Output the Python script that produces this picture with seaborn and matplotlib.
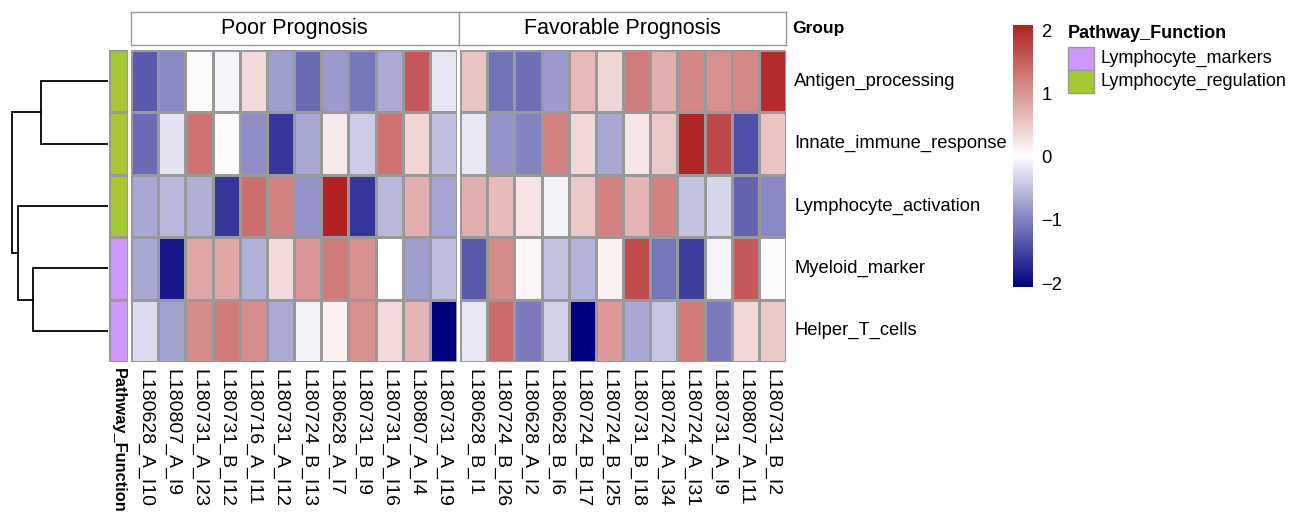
import numpy as np
import pandas as pd
import matplotlib
matplotlib.use("Agg")
import matplotlib.pyplot as plt
import seaborn as sns
from matplotlib.colors import LinearSegmentedColormap, ListedColormap
from matplotlib.patches import Rectangle

# ---------------- data ----------------
rows = ["Antigen_processing", "Innate_immune_response", "Lymphocyte_activation",
        "Myeloid_marker", "Helper_T_cells"]
poor_samples = ["L180628_A_I10", "L180807_A_I9", "L180731_A_I23", "L180731_B_I12",
                "L180716_A_I11", "L180731_A_I12", "L180724_B_I13", "L180628_A_I7",
                "L180731_B_I9", "L180731_A_I16", "L180807_A_I4", "L180731_A_I19"]
fav_samples = ["L180628_B_I1", "L180724_B_I26", "L180628_A_I2", "L180628_B_I6",
               "L180724_B_I17", "L180724_B_I25", "L180731_B_I18", "L180724_A_I34",
               "L180724_A_I31", "L180731_A_I9", "L180807_A_I11", "L180731_B_I2"]
groups = ["Poor Prognosis", "Favorable Prognosis"]

antigen = [-1.33, -0.95, 0.05, -0.08, 0.35, -0.77, -1.19, -0.81, -1.10, -0.67, 1.55, -0.19,
           0.57, -1.13, -1.16, -0.81, 0.67, 0.41, 1.23, 0.76, 1.14, 1.05, 1.11, 1.97]
innate = [-1.19, -0.22, 1.33, 0.05, -0.91, -1.62, -0.70, 0.22, -0.40, 1.33, 0.40, -0.50,
          -0.18, -0.85, -1.00, 1.19, 0.38, -0.70, 0.24, 0.52, 2.05, 1.71, -1.40, 0.57]
lymph_act = [-0.69, -0.56, -0.65, -1.62, 1.36, 1.19, -0.85, 2.08, -1.62, -0.57, 0.76, -0.73,
             0.76, 0.67, 0.26, -0.10, 0.52, 1.19, 0.71, 1.19, -0.48, -0.32, -1.24, -0.95]
myeloid = [-0.69, -1.85, 0.85, 0.85, -0.62, 0.35, 0.99, 1.26, 1.05, 0.00, -0.77, -0.52,
           -1.33, 1.09, 0.10, -0.48, -0.59, 0.15, 1.68, -1.10, -1.55, -0.08, 1.55, 0.05]
helper_t = [-0.27, -0.75, 1.09, 1.24, 1.07, -0.67, -0.10, 0.15, 1.05, 0.35, 0.71, -2.06,
            -0.18, 1.40, -1.07, -0.36, -2.06, 0.95, -0.70, -0.45, 1.24, -1.07, 0.38, 0.52]

pathway = ["Lymphocyte_regulation", "Lymphocyte_regulation", "Lymphocyte_regulation",
           "Lymphocyte_markers", "Lymphocyte_markers"]
pathway_levels = ["Lymphocyte_markers", "Lymphocyte_regulation"]
pathway_colors = ["#CF96FC", "#A6C832"]

# row dendrogram: merges (left id, right id, height); leaves 0..4, new nodes 5..8
merge_left = [0, 3, 2, 5]
merge_right = [1, 4, 6, 7]
merge_height = [67, 75, 90, 96]

# ---------------- figure ----------------
W, H = 1298, 521
fig = plt.figure(figsize=(W / 100, H / 100), dpi=100)
FONT = "Liberation Sans"
plt.rcParams["font.family"] = [FONT, "DejaVu Sans"]


def ax_px(l, t, r, b):
    return fig.add_axes([l / W, 1 - b / H, (r - l) / W, (b - t) / H])


mat = pd.DataFrame([antigen, innate, lymph_act, myeloid, helper_t], index=rows,
                   columns=poor_samples + fav_samples)
vmin, vmax = mat.values.min(), mat.values.max()
cmap = LinearSegmentedColormap.from_list("nwf", ["navy", "white", "firebrick"], N=256)
grey60 = "#999999"
FS_ROW = 13.2
FS_COL = 14

TOP, BOT = 50, 362
ax_p = ax_px(131, TOP, 457, BOT)
ax_f = ax_px(460, TOP, 786, BOT)
cax = ax_px(1013, 25, 1033, 287)

sns.heatmap(mat[poor_samples], ax=ax_p, cmap=cmap, vmin=vmin, vmax=vmax, cbar=False,
            linewidths=1, linecolor=grey60)
sns.heatmap(mat[fav_samples], ax=ax_f, cmap=cmap, vmin=vmin, vmax=vmax, cbar=True,
            cbar_ax=cax, linewidths=1, linecolor=grey60)

for ax, samples in ((ax_p, poor_samples), (ax_f, fav_samples)):
    ax.set_xticks(np.arange(len(samples)) + 0.5)
    ax.set_xticklabels(samples, rotation=270, ha="center", va="top", fontsize=FS_COL)
    ax.tick_params(axis="both", length=0, pad=5)
    ax.set_xlabel("")
    ax.set_ylabel("")
ax_p.set_yticks([])
ax_f.yaxis.tick_right()
ax_f.set_yticks(np.arange(len(rows)) + 0.5)
ax_f.set_yticklabels(rows, rotation=0, ha="left", va="center", fontsize=FS_ROW)
ax_f.tick_params(axis="y", length=0, pad=6)

# colorbar
cbar = ax_f.collections[0].colorbar
cbar.outline.set_visible(False)
cbar.set_ticks([-2, -1, 0, 1, 2])
cbar.set_ticklabels(["\u22122", "\u22121", "0", "1", "2"])
cbar.ax.tick_params(length=0, labelsize=FS_ROW, pad=6)

# annotation column
ax_a = ax_px(109, TOP, 128, BOT)
codes = pd.DataFrame({"Pathway_Function": [pathway_levels.index(p) for p in pathway]}, index=rows)
sns.heatmap(codes, ax=ax_a, cmap=ListedColormap(pathway_colors), vmin=-0.5, vmax=1.5,
            cbar=False, linewidths=1, linecolor=grey60)
ax_a.set_yticks([])
ax_a.set_xticks([0.5])
ax_a.set_xticklabels(["Pathway_Function"], rotation=270, ha="center", va="top",
                     fontsize=11.8, fontweight="bold")
ax_a.tick_params(length=0, pad=4)
ax_a.set_ylabel("")

# header (group boxes)
hdr = [(ax_px(131, 12, 458.5, 45), groups[0]), (ax_px(458.5, 12, 786, 45), groups[1])]
for hax, label in hdr:
    hax.set_xticks([])
    hax.set_yticks([])
    for s in hax.spines.values():
        s.set_color(grey60)
        s.set_linewidth(1)
    hax.text(0.5, 0.5, label, ha="center", va="center", fontsize=15.5,
             transform=hax.transAxes)
fig.text(792 / W, 1 - 29 / H, "Group", ha="left", va="center", fontsize=12.5,
         fontweight="bold")

# dendrogram
ax_d = ax_px(0, TOP, 108, BOT)
ax_d.set_xlim(108, 0)
ax_d.set_ylim(len(rows), 0)
ax_d.axis("off")
node_y = {i: i + 0.5 for i in range(len(rows))}
node_h = {i: 0 for i in range(len(rows))}
nid = len(rows)
for l, r, h in zip(merge_left, merge_right, merge_height):
    ax_d.plot([node_h[l], h, h, node_h[r]], [node_y[l], node_y[l], node_y[r], node_y[r]],
              color="black", lw=1.3, solid_joinstyle="miter")
    node_y[nid] = (node_y[l] + node_y[r]) / 2
    node_h[nid] = h
    nid += 1

# pathway legend
ax_l = ax_px(1060, 20, 1298, 110)
ax_l.set_xlim(1060, 1298)
ax_l.set_ylim(110, 20)
ax_l.axis("off")
ax_l.text(1068, 33, "Pathway_Function", ha="left", va="center", fontsize=13,
          fontweight="bold")
for i, (lev, col) in enumerate(zip(pathway_levels, pathway_colors)):
    y0 = 47 + i * 23
    ax_l.add_patch(Rectangle((1068, y0), 26, 23, facecolor=col, edgecolor=grey60, lw=1))
    ax_l.text(1100, y0 + 11.5, lev, ha="left", va="center", fontsize=13)

fig.savefig("out.png", dpi=100)
